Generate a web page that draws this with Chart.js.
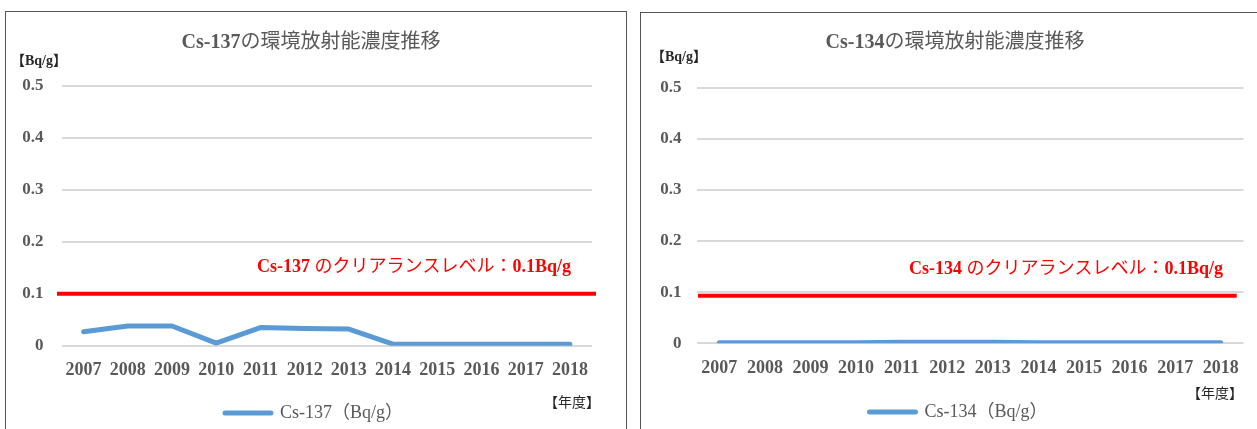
<!DOCTYPE html>
<html lang="ja">
<head>
<meta charset="utf-8">
<title>Cs-137 / Cs-134 環境放射能濃度推移</title>
<script src="https://cdn.jsdelivr.net/npm/chart.js@4.4.0/dist/chart.umd.min.js"></script>
<style>
    html, body { margin: 0; padding: 0; background: #fff; }
    #page { position: relative; width: 1257px; height: 429px; overflow: hidden; }
    .panel { position: absolute; border: 1.5px solid #555; box-sizing: border-box; }
    #panelA { left: 5px; top: 11px; width: 622px; height: 440px; }
    #panelB { left: 640px; top: 12px; width: 640px; height: 440px; }
    canvas { position: absolute; top: 0; }
    #chartA { left: 0; }
    #chartB { left: 630px; }
</style>
</head>
<body>
<div id="page">
    <div class="panel" id="panelA"></div>
    <div class="panel" id="panelB"></div>
    <canvas id="chartA" width="630" height="429"></canvas>
    <canvas id="chartB" width="627" height="429"></canvas>
</div>
<script>
// データ
const years = ['2007', '2008', '2009', '2010', '2011', '2012', '2013', '2014', '2015', '2016', '2017', '2018'];
const cs137Values = [0.027, 0.038, 0.038, 0.005, 0.035, 0.033, 0.032, 0.003, 0.003, 0.003, 0.003, 0.003];
const cs134Values = [0.001, 0.001, 0.001, 0.001, 0.002, 0.002, 0.002, 0.001, 0.001, 0.001, 0.001, 0.001];
const yTickValues = [0, 0.1, 0.2, 0.3, 0.4, 0.5];
const clearanceLevels = [0.1, 0.093]; // Cs-137, Cs-134 (図形として描かれた赤線の位置)

const SERIF = "'Liberation Serif', 'Noto Sans CJK JP', serif";
const GRAY = '#595959';

Chart.defaults.font.family = SERIF;
Chart.defaults.color = GRAY;

// 太字・細字が混ざったテキストを描画
function drawRuns(ctx, runs, x, y, align, size, color) {
    let total = 0;
    runs.forEach(r => {
        ctx.font = (r.bold ? 'bold ' : '') + size + 'px ' + SERIF;
        r.w = ctx.measureText(r.text).width;
        total += r.w;
    });
    let cx = align === 'center' ? x - total / 2 : (align === 'right' ? x - total : x);
    ctx.fillStyle = color;
    ctx.textBaseline = 'middle';
    ctx.textAlign = 'left';
    runs.forEach(r => {
        ctx.font = (r.bold ? 'bold ' : '') + size + 'px ' + SERIF;
        ctx.fillText(r.text, cx, y);
        cx += r.w;
    });
}

// クリアランスレベルの赤線と注記類
const panelDecor = {
    id: 'panelDecor',
    afterDatasetsDraw(chart, args, opts) {
        const ctx = chart.ctx;
        const area = chart.chartArea;
        const y = chart.scales.y.getPixelForValue(opts.level);
        ctx.save();
        ctx.strokeStyle = '#ff0000';
        ctx.lineWidth = 4;
        ctx.beginPath();
        ctx.moveTo(area.left + opts.lineStart, y);
        ctx.lineTo(area.right + opts.lineEnd, y);
        ctx.stroke();
        ctx.restore();
    },
    afterDraw(chart, args, opts) {
        const ctx = chart.ctx;
        ctx.save();
        drawRuns(ctx, [{ text: opts.nuclide, bold: true }, { text: 'の環境放射能濃度推移' }],
            opts.titleX, opts.titleY, 'center', 20, GRAY);
        drawRuns(ctx, [{ text: '【Bq/g】', bold: true }], opts.unitX, opts.unitY, 'left', 14, '#262626');
        drawRuns(ctx, [{ text: opts.nuclide + ' ', bold: true }, { text: 'のクリアランスレベル：' }, { text: '0.1Bq/g', bold: true }],
            opts.noteX, opts.noteY, 'center', 18, '#ff0000');
        drawRuns(ctx, [{ text: '【年度】' }], opts.yearX, opts.yearY, 'right', 14, '#262626');
        ctx.restore();
    }
};

function makeChart(canvasId, label, values, cfg) {
    return new Chart(document.getElementById(canvasId), {
        type: 'line',
        data: {
            labels: years,
            datasets: [{
                label: label,
                data: values,
                borderColor: '#5b9bd5',
                backgroundColor: '#5b9bd5',
                borderWidth: 5,
                borderCapStyle: 'round',
                borderJoinStyle: 'round',
                pointRadius: 0,
                tension: 0
            }]
        },
        options: {
            responsive: false,
            animation: false,
            layout: { padding: { left: cfg.padLeft, top: cfg.padTop, right: cfg.padRight, bottom: cfg.padBottom } },
            scales: {
                x: {
                    offset: true,
                    grid: { display: false },
                    border: { display: false },
                    ticks: {
                        autoSkip: false,
                        maxRotation: 0,
                        padding: cfg.xPad,
                        color: GRAY,
                        font: { size: 18, weight: 'bold' }
                    },
                    afterFit(scale) { scale.height = cfg.xHeight; }
                },
                y: {
                    min: 0,
                    max: 0.5,
                    afterBuildTicks(scale) { scale.ticks = yTickValues.map(v => ({ value: v })); },
                    grid: { color: '#d9d9d9', lineWidth: 2, drawTicks: false },
                    border: { display: false },
                    ticks: {
                        padding: cfg.yPad,
                        color: GRAY,
                        font: { size: 17, weight: 'bold' }
                    },
                    afterFit(scale) { scale.width = cfg.yWidth; }
                },
                // 右側の余白用（凡例の位置合わせのため）
                gap: {
                    position: 'right',
                    grid: { display: false },
                    border: { display: false },
                    ticks: { display: false },
                    afterFit(scale) { scale.width = cfg.gapWidth; }
                }
            },
            plugins: {
                legend: {
                    position: 'bottom',
                    labels: {
                        boxWidth: 46,
                        boxHeight: 0,
                        padding: 1.5,
                        color: GRAY,
                        font: { size: 18 }
                    }
                },
                tooltip: { enabled: false },
                panelDecor: cfg.decor
            }
        },
        plugins: [panelDecor]
    });
}

makeChart('chartA', 'Cs-137（Bq/g）', cs137Values, {
    padLeft: 16, padTop: 86, padRight: 18, padBottom: -3, gapWidth: 20,
    yWidth: 45.5, yPad: 18, xHeight: 56.8, xPad: 5.8,
    decor: {
        level: clearanceLevels[0], lineStart: -4.5, lineEnd: 4,
        nuclide: 'Cs-137',
        titleX: 311, titleY: 43,
        unitX: 11, unitY: 61,
        noteX: 414, noteY: 267,
        yearX: 600, yearY: 403
    }
});

makeChart('chartB', 'Cs-134（Bq/g）', cs134Values, {
    padLeft: 29, padTop: 87.7, padRight: -1, padBottom: -2, gapWidth: 14.5,
    yWidth: 37.5, yPad: 15, xHeight: 58.2, xPad: 6.2,
    decor: {
        level: clearanceLevels[1], lineStart: 1.5, lineEnd: -6.8,
        nuclide: 'Cs-134',
        titleX: 325, titleY: 43,
        unitX: 21, unitY: 57,
        noteX: 436, noteY: 269,
        yearX: 613, yearY: 394
    }
});
</script>
</body>
</html>
